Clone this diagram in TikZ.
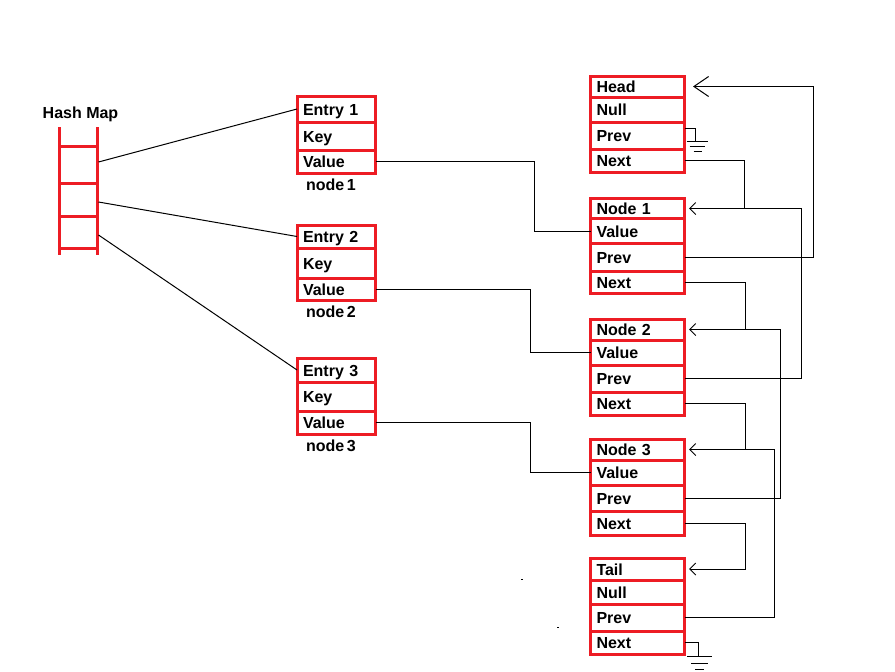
\documentclass[tikz,border=0pt]{standalone}
\usepackage{fontspec}
\setmainfont{Liberation Sans}
\usetikzlibrary{arrows.meta,positioning,calc}
\definecolor{pred}{RGB}{237,28,36}
\tikzset{>/.tip={Straight Barb[length=4.5pt,width=9pt]}}
\tikzset{Big>/.tip={Straight Barb[length=11pt,width=15pt]}}

\begin{document}
\begin{tikzpicture}[x=0.75pt,y=-0.75pt,line width=0.75pt,
    font=\fontsize{12}{14}\selectfont\bfseries,
    cell/.style={draw=pred,line width=2.25pt,outer sep=0pt,inner xsep=4.5pt,inner ysep=0pt,
      align=left,text height=10.5pt,text depth=1.5pt,minimum height=#1*0.75pt},
    lcell/.style={cell=#1,text width=61.5pt},
    ecell/.style={cell=#1,text width=49.9pt},
    rail/.style={draw=pred,line width=2.25pt},
    lbl/.style={inner sep=0pt,text height=10.5pt,text depth=1.5pt},
    arr/.style={->,shorten >=3.4pt},
    bigarr/.style={-Big>,shorten >=6.4pt}]
  \useasboundingbox (0,0) rectangle (895,671);

  \draw[rail] (59,127) -- (59,255);
  \draw[rail] (97,127) -- (97,255);
  \foreach \y in {146,183,216,248}
    \draw[rail] (59,\y) -- (97,\y);
  \node(hm)[lbl] at (80.5,112) {Hash Map};
  \coordinate (hm1) at (98.5,162);
  \coordinate (hm2) at (98.5,202);
  \coordinate (hm3) at (98.5,235);

  \node(e1)[ecell=26] at (336.3,109) {Entry 1};
  \node(e1key)[ecell=28,below=0pt of e1] {Key};
  \node(e1val)[ecell=23,below=0pt of e1key] {Value};
  \node(e1lbl)[lbl,below=2.25pt of e1val,xshift=-4pt] {node\,1};

  \node(e2)[ecell=23] at (336.3,236.5) {Entry 2};
  \node(e2key)[ecell=30,below=0pt of e2] {Key};
  \node(e2val)[ecell=22,below=0pt of e2key] {Value};
  \node(e2lbl)[lbl,below=2.25pt of e2val,xshift=-4pt] {node\,2};

  \node(e3)[ecell=24] at (336.3,370) {Entry 3};
  \node(e3key)[ecell=29,below=0pt of e3] {Key};
  \node(e3val)[ecell=23,below=0pt of e3key] {Value};
  \node(e3lbl)[lbl,below=2.25pt of e3val,xshift=-4pt] {node\,3};

  \node(head)[lcell=21] at (637.5,86.5) {Head};
  \node(hnull)[lcell=25,below=0pt of head] {Null};
  \node(hprev)[lcell=27,below=0pt of hnull] {Prev};
  \node(hnext)[lcell=23,below=0pt of hprev] {Next};

  \node(n1)[lcell=20] at (637.5,208.5) {Node 1};
  \node(n1val)[lcell=25,below=0pt of n1] {Value};
  \node(n1prev)[lcell=28,below=0pt of n1val] {Prev};
  \node(n1next)[lcell=22,below=0pt of n1prev] {Next};

  \node(n2)[lcell=21] at (637.5,329.5) {Node 2};
  \node(n2val)[lcell=25,below=0pt of n2] {Value};
  \node(n2prev)[lcell=27,below=0pt of n2val] {Prev};
  \node(n2next)[lcell=23,below=0pt of n2prev] {Next};

  \node(n3)[lcell=21] at (637.5,449.5) {Node 3};
  \node(n3val)[lcell=25,below=0pt of n3] {Value};
  \node(n3prev)[lcell=26,below=0pt of n3val] {Prev};
  \node(n3next)[lcell=24,below=0pt of n3prev] {Next};

  \node(tail)[lcell=22] at (637.5,569) {Tail};
  \node(tnull)[lcell=24,below=0pt of tail] {Null};
  \node(tprev)[lcell=27,below=0pt of tnull] {Prev};
  \node(tnext)[lcell=23,below=0pt of tprev] {Next};

  \draw (hm1) -- (e1.west);
  \draw (hm2) -- (e2.west);
  \draw (hm3) -- (e3.west);

  \draw (e1val.east) -- ++(159,0) |- (n1val.west);
  \draw (e2val.east) -- ++(155,0) |- (n2val.west);
  \draw (e3val.east) -- ++(155,0) |- (n3val.west);

  \draw (hnext.east) -| ($(n1.east)+(59.5,0)$);
  \draw (n1next.east) -| ($(n2.east)+(60.5,0)$);
  \draw (n2next.east) -| ($(n3.east)+(60.5,0)$);
  \draw[arr] (n3next.east) -| ($(tail.east)+(60.5,0)$) -- (tail.east);

  \draw[bigarr] (n1prev.east) -| ($(head.east)+(128.5,0)$) -- (head.east);
  \draw[arr] (n2prev.east) -| ($(n1.east)+(117,0)$) -- (n1.east);
  \draw[arr] (n3prev.east) -| ($(n2.east)+(95.5,0)$) -- (n2.east);
  \draw[arr] (tprev.east) -| ($(n3.east)+(89.5,0)$) -- (n3.east);

  \draw ([yshift=5.6pt]hprev.east) -- ++(11,0) -- ++(0,13) coordinate (g1);
  \draw (g1) ++(-9,0) -- ++(21,0);
  \draw (g1) ++(-6,5) -- ++(15,0);
  \draw (g1) ++(-2,10) -- ++(8,0);

  \draw (tnext.east) -- ++(14,0) -- ++(0,14) coordinate (g2);
  \draw (g2) ++(-11.5,0) -- ++(25,0);
  \draw (g2) ++(-7.5,6.5) -- ++(17,0);
  \draw (g2) ++(-3.5,12.5) -- ++(9,0);

  \fill (521,579) rectangle (523,580);
  \fill (557,627) rectangle (559,628);
\end{tikzpicture}
\end{document}
